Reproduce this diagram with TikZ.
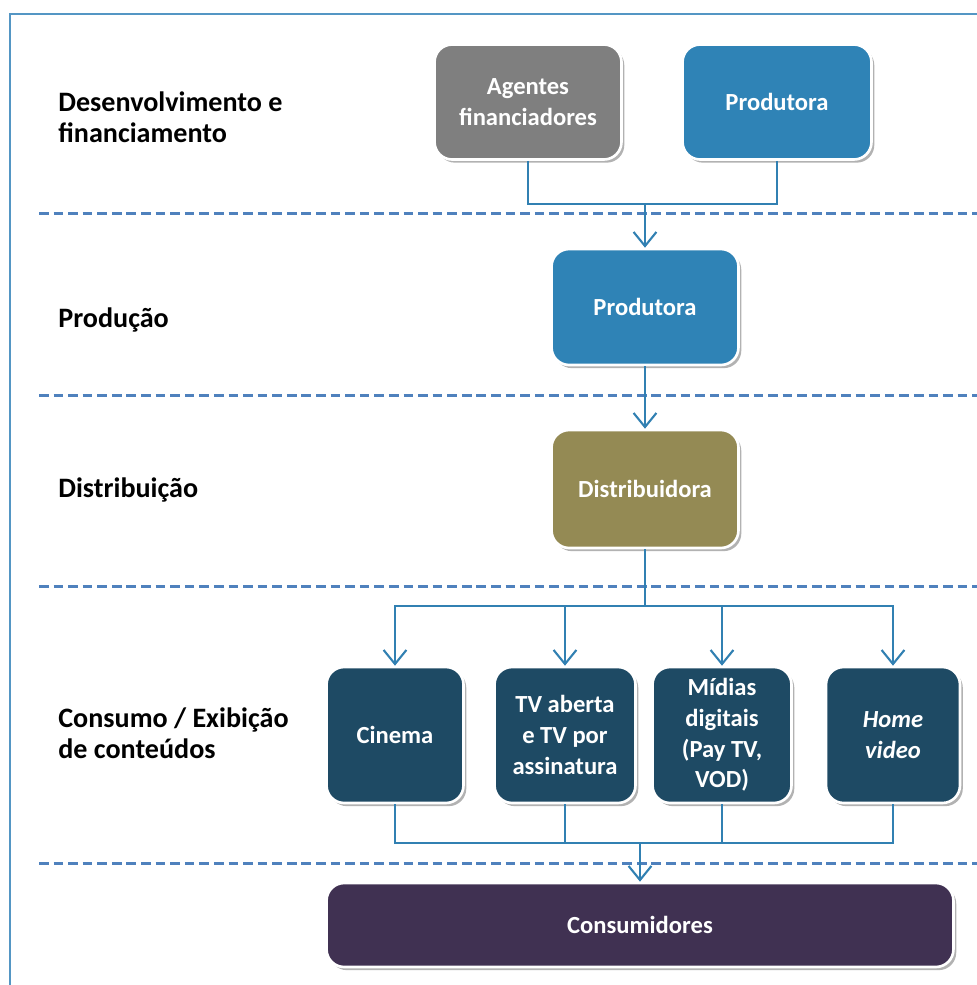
\documentclass[tikz,border=0pt]{standalone}
\usepackage{fontspec}
\setmainfont{Carlito}
\usetikzlibrary{arrows.meta,shadows}

\definecolor{framecol}{RGB}{84,150,196}
\definecolor{dashcol}{RGB}{79,129,189}
\definecolor{linecol}{RGB}{49,128,178}
\definecolor{agentgray}{RGB}{127,127,127}
\definecolor{prodblue}{RGB}{47,131,182}
\definecolor{distolive}{RGB}{148,138,84}
\definecolor{exibteal}{RGB}{30,74,100}
\definecolor{consplum}{RGB}{64,49,82}

\begin{document}
\begin{tikzpicture}[x=0.02cm,y=-0.02cm,
	stage/.style={anchor=west,align=left,inner sep=0pt,font=\bfseries\fontsize{16}{17.5}\selectfont},
	box/.style={rounded corners=10pt,draw=white,line width=1.5pt,text=white,align=center,inner sep=2pt,
		font=\bfseries\fontsize{14}{17.5}\selectfont,
		drop shadow={shadow xshift=1.6pt,shadow yshift=-1.8pt,opacity=0.3,fill=black}},
	sep/.style={dashcol,line width=1.7pt,dash pattern=on 5.5pt off 2.8pt},
	conn/.style={linecol,line width=1.2pt},
	arr/.style={conn,-{Straight Barb[length=8pt,width=13pt,line width=1.2pt]}}]
\useasboundingbox (0,0) rectangle (977,985);
\draw[framecol,line width=1.2pt] (977,14) -- (10,14) -- (10,985);

% stages
\node[stage] (s1) at (58,117) {Desenvolvimento e\\financiamento};
\node[stage] (s2) at (58,320) {Produção};
\node[stage] (s3) at (58,490) {Distribuição};
\node[stage] (s4) at (58,733) {Consumo / Exibição\\de conteúdos};
\foreach \y in {213,395,586,863}
	\draw[sep] (39,\y) -- (977,\y);

% boxes
\node[box,fill=agentgray,minimum width=3.74cm,minimum height=2.3cm] (ag) at (528,102) {Agentes\\financiadores};
\node[box,fill=prodblue,minimum width=3.78cm,minimum height=2.3cm] (prodA) at (777,102) {Produtora};
\node[box,fill=prodblue,minimum width=3.74cm,minimum height=2.32cm] (prodB) at (645,307) {Produtora};
\node[box,fill=distolive,minimum width=3.74cm,minimum height=2.36cm] (dist) at (645,489) {Distribuidora};
\node[box,fill=exibteal,minimum width=2.74cm,minimum height=2.72cm] (cin) at (395,735) {Cinema};
\node[box,fill=exibteal,minimum width=2.82cm,minimum height=2.72cm] (tv) at (565,735) {TV aberta\\e TV por\\assinatura};
\node[box,fill=exibteal,minimum width=2.78cm,minimum height=2.72cm] (mid) at (722,735) {Mídias\\digitais\\(Pay TV,\\VOD)};
\node[box,fill=exibteal,minimum width=2.68cm,minimum height=2.72cm] (home) at (893,735) {\itshape Home\\\itshape video};
\node[box,fill=consplum,minimum width=12.54cm,minimum height=1.68cm] (cons) at (640,925) {Consumidores};

% connectors
\coordinate (jtop) at (645,204);
\coordinate (jdist) at (645,606);
\coordinate (jcons) at (640,843);
\draw[conn] (ag.south) |- (jtop);
\draw[conn] (prodA.south) |- (jtop);
\draw[arr] (jtop) -- (prodB.north);
\draw[arr] (prodB.south) -- (dist.north);
\draw[conn] (dist.south) -- (jdist);
\foreach \b in {cin,tv,mid,home}{
	\draw[arr] (jdist) -| (\b.north);
	\draw[conn] (\b.south) |- (jcons);
}
\draw[arr] (jcons) -- (cons.north);
\end{tikzpicture}
\end{document}
